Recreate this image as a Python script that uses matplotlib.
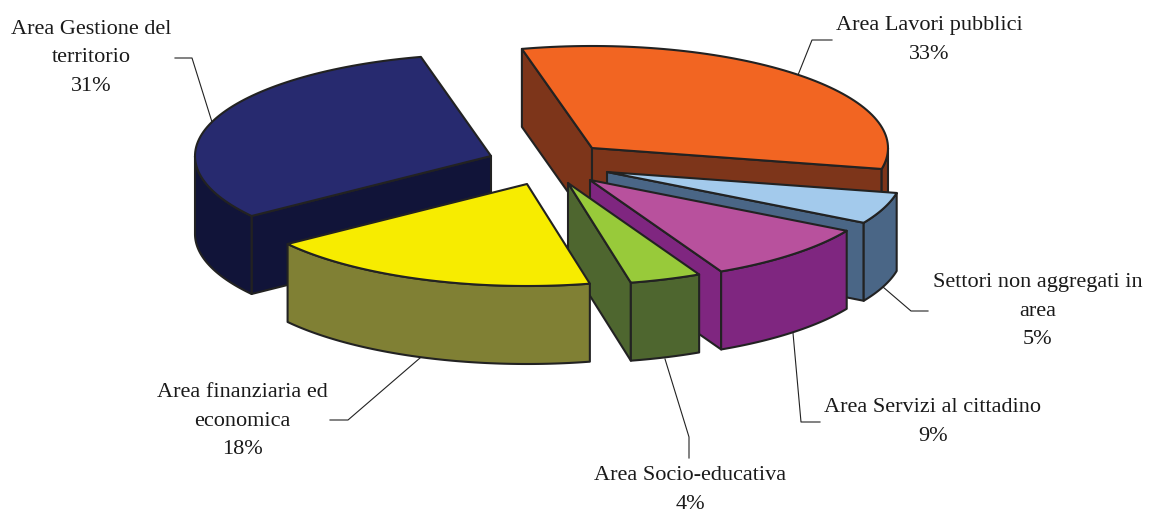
import numpy as np
import matplotlib
matplotlib.use("Agg")
import matplotlib.pyplot as plt

plt.rcParams['font.family'] = ['Liberation Serif', 'DejaVu Serif']

# clockwise from the back edge of the orange slice
names = ['Area Lavori pubblici', 'Settori non aggregati in\narea', 'Area Servizi al cittadino',
         'Area Socio-educativa', 'Area finanziaria ed\neconomica', 'Area Gestione del\nterritorio']
shown_pct = [33, 5, 9, 4, 18, 31]
shares = [32.1, 5.0, 9.4, 3.9, 18.4, 31.2]  # measured from the slice edges

top_cols = ['#F26522', '#A3CAEC', '#B8519D', '#98CA3A', '#F7EC00', '#272A6F']
side_cols = ['#7D351A', '#4A6686', '#7F2680', '#4E662F', '#808034', '#111439']

apex_x = [592, 607, 590, 568, 527, 491]
apex_y = [148, 172, 180, 183, 184, 156]
draw_order = [5, 0, 1, 2, 3, 4]

label_x = [929, 1038, 933, 690, 242, 91]
label_y = [40, 311, 422, 490, 421, 58]

lead_x = [[798, 812, 832], [883, 911, 928], [793, 801, 820], [665, 689, 689], [420, 348, 330], [212, 192, 175]]
lead_y = [[75, 40, 40], [287, 311, 311], [333, 422, 422], [359, 437, 458], [358, 420, 420], [122, 58, 58]]

rx, ry, depth = 296, 102, 78
start = -13.7


def rim(a0, a1, cx, cy):
    t = np.radians(np.linspace(a0, a1, 80))
    return cx + rx*np.sin(t), cy - ry*np.cos(t)


fig = plt.figure(figsize=(11.49, 5.15), dpi=100)
ax = fig.add_axes([0, 0, 1, 1])
ax.set_xlim(0, 1149)
ax.set_ylim(515, 0)
ax.axis('off')

edges = start + np.concatenate([[0], np.cumsum(shares)]) * 3.6

for x, y in zip(lead_x, lead_y):
    ax.plot(x, y, color='#222222', lw=0.8, zorder=1)

z = 2
for i in draw_order:
    a0, a1 = edges[i], edges[i+1]
    cx, cy = apex_x[i], apex_y[i]
    kw = dict(edgecolor='#222222', lw=1.5, joinstyle='round')

    # only the radial walls turned towards us
    walls = []
    if np.sin(np.radians(a0)) < 0:
        walls.append(a0)
    if np.sin(np.radians(a1)) > 0:
        walls.append(a1)
    for a in walls:
        ex, ey = rim(a, a, cx, cy)
        ax.fill([cx, ex[0], ex[0], cx], [cy, ey[0], ey[0]+depth, cy+depth],
                facecolor=side_cols[i], zorder=z, **kw)
    # only the part of the rim facing us
    lo, hi = max(a0, 90), min(a1, 270)
    if lo < hi:
        x, y = rim(lo, hi, cx, cy)
        ax.fill(np.r_[x, x[::-1]], np.r_[y, y[::-1]+depth],
                facecolor=side_cols[i], zorder=z+1, **kw)
    x, y = rim(a0, a1, cx, cy)
    ax.fill(np.r_[cx, x], np.r_[cy, y], facecolor=top_cols[i], zorder=z+2, **kw)
    z += 3

for i in range(len(names)):
    ax.text(label_x[i], label_y[i], f'{names[i]}\n{shown_pct[i]}%', ha='center', va='center',
            multialignment='center', fontsize=16, linespacing=1.7, color='#1a1a1a', zorder=50)

fig.savefig('out.png', dpi=100)
